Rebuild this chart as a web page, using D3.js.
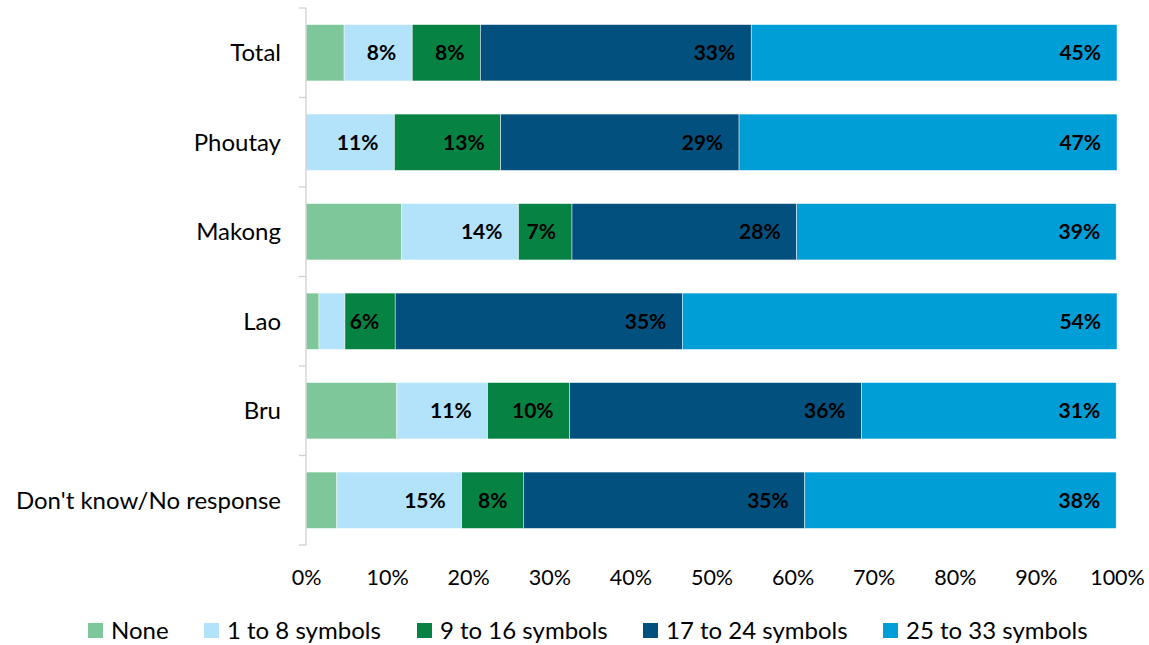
<!DOCTYPE html>
<html>
<head>
<meta charset="utf-8">
<script src="https://cdn.jsdelivr.net/npm/d3@7"></script>
<style>
  html, body { margin: 0; padding: 0; background: #fff; }
  svg { display: block; font-family: Lato, "Open Sans", sans-serif; }
</style>
</head>
<body>
<svg id="chart" width="1149" height="645"></svg>
<script>
// Groups, top to bottom
const categories = ["Total", "Phoutay", "Makong", "Lao", "Bru", "Don't know/No response"];
// Number of symbols recognised, share of respondents (%)
const seriesNames = ["None", "1 to 8 symbols", "9 to 16 symbols", "17 to 24 symbols", "25 to 33 symbols"];
const none      = [4.7, 0.0, 11.8, 1.6, 11.2, 3.8];
const sym1to8   = [8.4, 10.9, 14.4, 3.2, 11.2, 15.4];
const sym9to16  = [8.4, 13.1, 6.6, 6.2, 10.1, 7.6];
const sym17to24 = [33.4, 29.4, 27.7, 35.4, 36.0, 34.7];
const sym25to33 = [45.1, 46.6, 39.4, 53.6, 31.4, 38.4];
// Series that carry value labels
const labelled = [false, true, true, true, true];
const xTicks = [0, 10, 20, 30, 40, 50, 60, 70, 80, 90, 100];

const colors = ["#7dc79a", "#b3e2fb", "#068343", "#02507d", "#009ed7"];
const seriesValues = [none, sym1to8, sym9to16, sym17to24, sym25to33];

const rows = categories.map((c, i) => {
  const r = { category: c };
  seriesNames.forEach((s, k) => r[s] = seriesValues[k][i]);
  return r;
});

const svg = d3.select("#chart");
const margin = { left: 306, right: 32, top: 8, bottom: 100 };
const W = 1149, H = 645;

const x = d3.scaleLinear().domain([0, 100]).range([margin.left, W - margin.right]);
const y = d3.scaleBand().domain(categories)
  .range([margin.top, H - margin.bottom])
  .paddingInner(0.37).paddingOuter(0.185);

const layers = d3.stack().keys(seriesNames)(rows);

// Bars
const g = svg.append("g");
layers.forEach((layer, k) => {
  g.selectAll(null).data(layer.filter(d => d[1] - d[0] > 0)).join("rect")
    .attr("x", d => x(d[0]))
    .attr("y", d => y(d.data.category))
    .attr("width", d => x(d[1]) - x(d[0]))
    .attr("height", y.bandwidth())
    .attr("fill", colors[k])
    .attr("stroke", "#ffffff")
    .attr("stroke-width", 0.6)
    .attr("stroke-opacity", 0.8);
});

// Value labels, right-aligned at the inside end of each segment
layers.forEach((layer, k) => {
  if (!labelled[k]) return;
  g.selectAll(null).data(layer.filter(d => d[1] - d[0] >= 5)).join("text")
    .attr("x", d => x(d[1]) - 16)
    .attr("y", d => y(d.data.category) + y.bandwidth() / 2)
    .attr("dy", "0.36em")
    .attr("text-anchor", "end")
    .attr("font-size", 21)
    .attr("font-weight", 700)
    .attr("fill", "#000")
    .text(d => Math.round(d[1] - d[0]) + "%");
});

// Category axis: vertical line with ticks between groups
const axisG = svg.append("g");
const y0 = margin.top, y1 = H - margin.bottom;
axisG.append("line")
  .attr("x1", margin.left).attr("x2", margin.left)
  .attr("y1", y0).attr("y2", y1)
  .attr("stroke", "#d0d0d0").attr("stroke-width", 1.3);
d3.range(categories.length + 1).forEach(i => {
  const yy = y0 + i * (y1 - y0) / categories.length;
  axisG.append("line")
    .attr("x1", margin.left - 7).attr("x2", margin.left)
    .attr("y1", yy).attr("y2", yy)
    .attr("stroke", "#d0d0d0").attr("stroke-width", 1.3);
});
axisG.selectAll(null).data(categories).join("text")
  .attr("x", margin.left - 25)
  .attr("y", d => y(d) + y.bandwidth() / 2)
  .attr("dy", "0.36em")
  .attr("text-anchor", "end")
  .attr("font-size", 24)
  .attr("fill", "#000")
  .text(d => d);

// Percentage axis (labels only)
const xAxis = d3.axisBottom(x).tickValues(xTicks).tickFormat(d => d + "%").tickSize(0).tickPadding(0);
const xg = svg.append("g").attr("transform", "translate(0, 577)").call(xAxis);
xg.select(".domain").remove();
xg.selectAll("text")
  .attr("font-size", 21.5)
  .attr("font-family", "Lato, 'Open Sans', sans-serif")
  .attr("fill", "#000")
  .attr("dy", "0.36em")
  .attr("y", 0);

// Legend
const legendX = [88, 204, 417, 643, 883];
const lg = svg.append("g").attr("transform", "translate(0, 630.5)");
seriesNames.forEach((s, k) => {
  lg.append("rect")
    .attr("x", legendX[k]).attr("y", -7.5)
    .attr("width", 15).attr("height", 15)
    .attr("fill", colors[k]);
  lg.append("text")
    .attr("x", legendX[k] + 23).attr("y", 0)
    .attr("dy", "0.36em")
    .attr("font-size", 24)
    .attr("fill", "#000")
    .text(s);
});
</script>
</body>
</html>
